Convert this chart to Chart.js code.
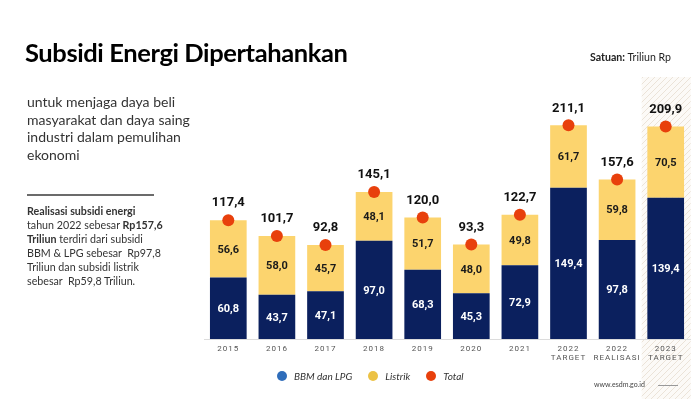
<!DOCTYPE html>
<html>
<head>
<meta charset="utf-8">
<script src="https://cdn.jsdelivr.net/npm/chart.js@4.4.1/dist/chart.umd.min.js"></script>
<style>
  html,body{margin:0;padding:0;background:#fff;}
  #wrap{position:relative;width:700px;height:400px;overflow:hidden;font-family:Lato,"Open Sans",sans-serif;color:#222;}
  #c{position:absolute;left:0;top:0;}
  .abs{position:absolute;white-space:nowrap;}
  #title{left:25px;top:37px;font-size:25.5px;font-weight:700;color:#000;letter-spacing:-0.4px;}
  #unit{left:590px;top:51px;font-size:10.6px;color:#222;}
  #sub{left:27px;top:93px;font-size:14px;line-height:17.5px;color:#333;}
  #rule{left:27px;top:194px;width:127px;height:2px;background:#6b6b6b;}
  #para{left:27px;top:204px;font-size:10.7px;line-height:14px;color:#333;}
  #legend{left:277px;top:370px;font-size:10px;font-style:italic;color:#333;}
  #legend span.it{display:inline-block;margin-right:16px;}
  #legend i{display:inline-block;width:10px;height:10px;border-radius:50%;vertical-align:-1px;margin-right:7px;}
  #site{left:594px;top:380px;font-size:7px;color:#444;}
  #siteline{left:658px;top:385px;width:20px;height:1px;background:#999;}
</style>
</head>
<body>
<div id="wrap">
  <canvas id="c" width="700" height="400"></canvas>
  <div class="abs" id="title">Subsidi Energi Dipertahankan</div>
  <div class="abs" id="unit"><b>Satuan:</b> Triliun Rp</div>
  <div class="abs" id="sub">untuk menjaga daya beli<br>masyarakat dan daya saing<br>industri dalam pemulihan<br>ekonomi</div>
  <div class="abs" id="rule"></div>
  <div class="abs" id="para"><b>Realisasi subsidi energi</b><br>tahun 2022 sebesar <b>Rp157,6</b><br><b>Triliun</b> terdiri dari subsidi<br>BBM &amp; LPG sebesar &nbsp;Rp97,8<br>Triliun dan subsidi listrik<br>sebesar &nbsp;Rp59,8 Triliun.</div>
  <div class="abs" id="legend"><span class="it"><i style="background:#2f6dba"></i>BBM dan LPG</span><span class="it"><i style="background:#ecc245"></i>Listrik</span><span class="it"><i style="background:#e8400c"></i>Total</span></div>
  <div class="abs" id="site">www.esdm.go.id</div>
  <div class="abs" id="siteline"></div>
</div>
<script>
const categories = [["2015"],["2016"],["2017"],["2018"],["2019"],["2020"],["2021"],["2022","TARGET"],["2022","REALISASI"],["2023","TARGET"]];
const bbmLpg  = [60.8, 43.7, 47.1, 97.0, 68.3, 45.3, 72.9, 149.4, 97.8, 139.4];
const listrik = [56.6, 58.0, 45.7, 48.1, 51.7, 48.0, 49.8, 61.7, 59.8, 70.5];
const total   = [117.4, 101.7, 92.8, 145.1, 120.0, 93.3, 122.7, 211.1, 157.6, 209.9];
const seriesNames = ["BBM dan LPG", "Listrik", "Total"];
const highlightIndex = 9;

const fmt = v => v.toFixed(1).replace('.', ',');

const hatchPlugin = {
  id: 'hatch',
  beforeDraw(chart) {
    const ctx = chart.ctx;
    const x = chart.scales.x;
    const cx = x.getPixelForValue(highlightIndex);
    const p = document.createElement('canvas');
    p.width = 6; p.height = 6;
    const pc = p.getContext('2d');
    pc.fillStyle = '#fcfaf7';
    pc.fillRect(0,0,6,6);
    pc.strokeStyle = '#ebe3d8';
    pc.lineWidth = 1;
    pc.beginPath();
    pc.moveTo(0,6); pc.lineTo(6,0);
    pc.moveTo(-1,1); pc.lineTo(1,-1);
    pc.moveTo(5,7); pc.lineTo(7,5);
    pc.stroke();
    ctx.save();
    ctx.fillStyle = ctx.createPattern(p, 'repeat');
    ctx.fillRect(cx - 24, 77, 49, 322);
    ctx.restore();
    ctx.letterSpacing = '1px';
  },
  beforeDatasetsDraw(chart) {
    chart.ctx.letterSpacing = '0px';
  }
};

const labelPlugin = {
  id: 'vlabels',
  afterDatasetsDraw(chart) {
    const ctx = chart.ctx;
    ctx.save();
    ctx.letterSpacing = '0px';
    ctx.textAlign = 'center';
    ctx.textBaseline = 'middle';
    [0,1].forEach(di => {
      const meta = chart.getDatasetMeta(di);
      const vals = chart.data.datasets[di].data;
      meta.data.forEach((el, i) => {
        ctx.font = 'bold 11px Roboto, sans-serif';
        ctx.fillStyle = di === 0 ? '#ffffff' : '#1a1a1a';
        ctx.fillText(fmt(vals[i]), el.x, (el.y + el.base) / 2 + 1);
      });
    });
    const tm = chart.getDatasetMeta(2);
    tm.data.forEach((el, i) => {
      ctx.font = 'bold 13px Roboto, sans-serif';
      ctx.fillStyle = '#111';
      ctx.fillText(fmt(total[i]), el.x, el.y - 17);
    });
    ctx.restore();
  }
};

new Chart(document.getElementById('c'), {
  type: 'bar',
  data: {
    labels: categories,
    datasets: [
      { label: seriesNames[0], data: bbmLpg, backgroundColor: '#0b205e', stack: 's', order: 2,
        barPercentage: 0.755, categoryPercentage: 1 },
      { label: seriesNames[1], data: listrik, backgroundColor: '#fcd46e', stack: 's', order: 2,
        barPercentage: 0.755, categoryPercentage: 1 },
      { label: seriesNames[2], type: 'line', data: total, showLine: false, stack: 't', order: 0,
        pointRadius: 6, pointHoverRadius: 6, pointBackgroundColor: '#e8400c', pointBorderWidth: 0,
        borderColor: '#e8400c', clip: false }
    ]
  },
  options: {
    responsive: false,
    animation: false,
    events: [],
    layout: { padding: { left: 204, right: 10, top: 96, bottom: 31 } },
    plugins: { legend: { display: false }, tooltip: { enabled: false } },
    scales: {
      x: {
        stacked: true,
        offset: true,
        grid: { display: false, drawTicks: false },
        border: { display: true, color: '#dcdcdc', width: 1 },
        ticks: { color: '#555', font: { family: 'Roboto', size: 8 }, padding: 5, maxRotation: 0, autoSkip: false },
        afterFit(scale) { scale.height = 30; }
      },
      y: {
        stacked: true,
        display: false,
        min: 0,
        max: 240
      }
    }
  },
  plugins: [hatchPlugin, labelPlugin]
});
</script>
</body>
</html>
